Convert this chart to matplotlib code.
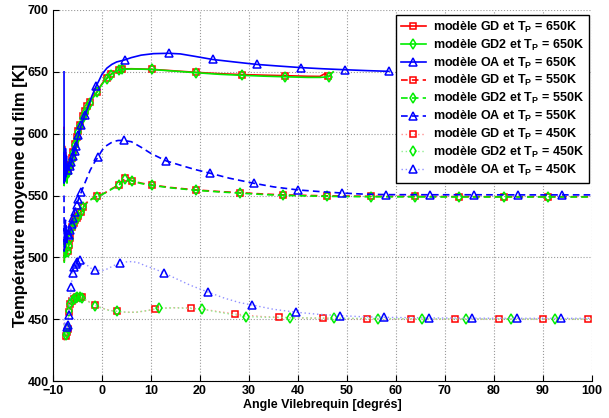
import matplotlib
matplotlib.use("Agg")
import matplotlib.pyplot as plt
import numpy as np

plt.rcParams['font.family'] = ['Liberation Sans', 'DejaVu Sans']
plt.rcParams['font.weight'] = 'bold'
plt.rcParams['axes.labelweight'] = 'bold'
plt.rcParams['mathtext.fontset'] = 'custom'
plt.rcParams['mathtext.rm'] = 'Liberation Sans:bold'
plt.rcParams['mathtext.bf'] = 'Liberation Sans:bold'
plt.rcParams['mathtext.it'] = 'Liberation Sans:bold'

# ---- data ----
# Tp = 650K
x_gd650 = [-7.75, -7.72, -7.65, -7.55, -7.45, -7.35, -7.25, -7.15, -7.0, -6.8, -6.5, -6.2, -5.9, -5.5,
           -5.2, -4.8, -4.4, -3.8, -3.4, -3.0, -2.5, -2.1, -1.5, -1.0, -0.4, 0.3, 1.0, 1.8, 2.5, 3.4,
           4.1, 6.0, 8.0, 10.2, 14.0, 19.2, 24.0, 28.5, 33.0, 37.4, 42.0, 44.5, 45.5, 46.2]
y_gd650 = [605, 560, 590, 565, 585, 563, 578, 562, 570, 566, 575, 580, 585, 592,
           597, 602, 607, 614, 618, 622, 626, 628.6, 631, 634, 638, 642, 645, 648, 650, 651.5,
           652.3, 652.5, 652.3, 652, 651, 649.6, 648.5, 647.8, 647.3, 646.9, 646.4, 646.3, 648.5, 646.5]
m_gd650 = [-7.0, -6.5, -6.2, -5.9, -5.5, -5.2, -4.8, -4.4, -3.8, -3.4, -3.0, -2.5, -1.0, 1.0, 1.8,
           3.4, 4.1, 10.2, 19.2, 28.5, 37.4, 46.2]

x_gd2650 = [-7.75, -7.72, -7.65, -7.55, -7.45, -7.35, -7.25, -7.15, -7.0, -6.8, -6.5, -6.2, -5.9, -5.5,
            -5.2, -4.8, -4.4, -3.8, -3.4, -3.0, -2.5, -2.1, -1.5, -1.0, -0.4, 0.3, 1.0, 1.8, 2.5, 3.4,
            4.1, 6.0, 8.0, 10.2, 14.0, 19.2, 24.0, 28.5, 33.0, 37.4, 42.0, 44.5, 46.3, 47.2]
y_gd2650 = [603, 558, 588, 563, 583, 561, 576, 560, 568, 565, 574, 579, 584, 591,
            596, 601, 606, 613, 617, 621, 625, 628, 630.5, 633.5, 637.5, 641.5, 644.5, 647.5, 649.7, 651.3,
            652, 652.3, 652.2, 651.9, 650.8, 649.3, 648, 647.2, 646.5, 646, 645.5, 645.5, 646, 650]
m_gd2650 = [-7.0, -6.5, -6.2, -5.9, -5.5, -5.2, -4.8, -4.4, -3.8, -3.4, -3.0, -2.5, -1.0, 1.0, 1.8,
            3.4, 4.1, 10.2, 19.2, 28.5, 37.4, 46.3]

x_oa650 = [-7.75, -7.72, -7.65, -7.55, -7.45, -7.35, -7.25, -7.15, -7.0, -6.9, -6.6, -6.3, -5.9, -5.6,
           -5.3, -4.8, -4.2, -3.5, -2.8, -2.1, -1.2, -0.6, 0.0, 1.0, 2.0, 3.0, 4.6, 6.0, 8.0, 10.5,
           13.6, 16.0, 19.0, 22.6, 27.0, 31.6, 36.0, 40.7, 45.0, 49.6, 54.0, 58.6]
y_oa650 = [650, 560, 585, 562, 588, 565, 582, 568, 575, 571, 574, 577, 582, 586,
           590, 599, 607, 615, 622, 630, 638.5, 643, 648, 653, 656, 658, 659.6, 661.5, 663.5, 664.7,
           665, 664.5, 662.5, 660, 658, 656, 654.7, 653.4, 652.5, 651.7, 651, 650.4]
m_oa650 = [-6.9, -6.6, -6.3, -5.9, -5.6, -5.3, -4.8, -4.2, -3.5, -1.2, 4.6, 13.6, 22.6, 31.6, 40.7,
           49.6, 58.6]

# Tp = 550K
x_gd550 = [-7.75, -7.7, -7.6, -7.5, -7.4, -7.3, -7.2, -7.0, -6.8, -6.5, -6.2, -5.8, -5.5, -5.1,
           -4.8, -4.3, -3.8, -3.2, -2.5, -1.8, -1.0, 0.0, 1.0, 2.0, 3.4, 4.75, 6.2, 8.0, 10.2, 14.0,
           19.2, 24.0, 28.2, 33.0, 37.0, 46.0, 55.0, 64.0, 73.0, 82.0, 91.0, 100.0]
y_gd550 = [515, 497, 510, 499, 508, 500, 506, 505, 510, 516, 524.8, 528, 530, 532,
           533.5, 537, 541, 544, 546.4, 548, 549.2, 551, 553, 555.5, 558.5, 564, 562, 560, 558.5, 556.5,
           554.5, 553.2, 552.3, 551.2, 550.5, 549.7, 549.3, 549.2, 549.1, 549.0, 549.0, 549.0]
m_gd550 = [-7.0, -6.8, -6.5, -6.2, -5.8, -5.5, -5.1, -4.8, -4.3, -3.8, -1.0, 3.4, 4.75, 6.2, 10.2,
           19.2, 28.2, 37.0, 46.0, 55.0, 64.0, 73.0, 82.0, 91.0]

x_gd2550 = x_gd550
y_gd2550 = [514, 496, 509, 498, 507, 499, 505, 504, 509, 515, 524, 527.5, 529.5, 531.5,
            533, 536.5, 540.5, 543.5, 546, 547.7, 549, 550.8, 552.8, 555.2, 558.2, 563.5, 561.7, 559.7, 558.2, 556.2,
            554.2, 552.9, 551.9, 550.8, 550.1, 549.3, 549.0, 548.9, 548.8, 548.8, 548.8, 548.8]
m_gd2550 = m_gd550

x_oa550 = [-7.75, -7.72, -7.65, -7.55, -7.45, -7.35, -7.25, -7.15, -7.0, -6.8, -6.5, -6.2, -5.9, -5.6,
           -5.2, -4.8, -4.2, -3.5, -2.4, -1.5, -0.75, 0.0, 0.8, 2.2, 3.3, 4.4, 6.0, 8.0, 10.0, 13.1,
           16.0, 19.0, 22.1, 26.0, 31.0, 35.0, 40.0, 45.0, 49.0, 53.0, 58.0, 67.0, 76.0, 85.0, 94.0, 100.0]
y_oa550 = [550, 505, 528, 508, 530, 510, 525, 512, 519, 518, 522, 527, 532, 537,
           542, 547, 553, 560, 570.5, 577, 581.4, 586.5, 590, 593.5, 594.5, 594.5, 593.5, 589, 584, 578,
           574.5, 571, 568, 564, 559.9, 557, 554.5, 553, 552, 551.2, 550.7, 550.6, 550.6, 550.5, 550.5, 550.5]
m_oa550 = [-7.0, -6.8, -6.5, -6.2, -5.9, -5.6, -5.2, -4.8, -4.2, -0.75, 4.4, 13.1, 22.1, 31.0, 40.0,
           49.0, 58.0, 67.0, 76.0, 85.0, 94.0]

# Tp = 450K
x_gd450 = [-7.75, -7.7, -7.6, -7.5, -7.4, -7.3, -7.2, -7.0, -6.8, -6.5, -6.2, -5.8, -5.4, -5.0,
           -4.5, -4.1, -3.0, -2.0, -1.4, 0.0, 1.5, 3.1, 5.0, 7.0, 9.0, 10.9, 13.0, 15.0, 18.2, 21.0,
           24.0, 27.1, 30.0, 33.0, 36.2, 40.0, 45.1, 54.2, 63.1, 72.1, 81.1, 90.1, 99.2, 100.0]
y_gd450 = [447, 433, 443, 435, 441, 436, 440, 442, 456, 462, 464.5, 466, 467, 467.8,
           468, 467.7, 465, 462.5, 461.4, 459, 457.2, 456.3, 455.6, 455.6, 456.8, 458, 459, 459.3, 459, 457.8,
           456, 454.2, 453, 452, 451.5, 451, 450.7, 450.3, 450.1, 450, 450, 450, 450, 450]
m_gd450 = [-7.3, -7.2, -7.0, -6.8, -6.5, -6.2, -5.8, -5.4, -5.0, -4.5, -4.1, -1.4, 3.1, 10.9, 18.2,
           27.1, 36.2, 45.1, 54.2, 63.1, 72.1, 81.1, 90.1, 99.2]

x_gd2450 = [-7.75, -7.7, -7.6, -7.5, -7.4, -7.3, -7.2, -7.0, -6.8, -6.5, -6.2, -5.8, -5.4, -5.0,
            -4.5, -4.1, -3.0, -2.0, -1.4, 0.0, 1.5, 3.1, 5.0, 7.0, 9.0, 11.6, 15.0, 20.4, 24.0, 29.4,
            33.0, 38.4, 42.0, 47.4, 56.4, 65.4, 74.3, 83.5, 92.5, 100.0]
y_gd2450 = [446, 434, 442, 436, 440, 437, 439, 443, 457, 462.5, 465, 466.5, 467.5, 468,
            468.2, 467.5, 464.8, 462.3, 461, 458.8, 457, 456.3, 455.6, 455.6, 456.8, 458.8, 459.2, 458.2, 455.5, 452,
            451.6, 451.3, 451, 450.8, 450.5, 450.3, 450.2, 450.1, 450.1, 450.1]
m_gd2450 = [-7.3, -7.2, -7.0, -6.8, -6.5, -6.2, -5.8, -5.4, -5.0, -4.5, -4.1, -1.4, 3.1, 11.6, 20.4,
            29.4, 38.4, 47.4, 56.4, 65.4, 74.3, 83.5, 92.5]

x_oa450 = [-7.75, -7.7, -7.6, -7.5, -7.4, -7.3, -7.2, -7.0, -6.8, -6.6, -6.3, -6.0, -5.7, -5.4,
           -5.0, -4.5, -4.0, -3.0, -2.0, -1.5, 0.0, 1.0, 2.5, 3.7, 5.0, 6.2, 7.5, 9.0, 10.8, 12.6,
           15.0, 18.0, 21.6, 25.0, 28.0, 30.6, 35.0, 39.7, 44.0, 48.6, 53.0, 57.6, 66.7, 75.6, 84.7, 93.7, 100.0]
y_oa450 = [450, 440, 447, 441, 446, 442, 444, 445, 453, 464, 476, 487, 492, 494.5,
           496.5, 497.8, 497, 493.5, 490.5, 489.8, 489.2, 490.5, 493.5, 495.2, 496.3, 496.6, 495.5, 493, 490.5, 487.6,
           483, 477.5, 472, 467, 463.5, 461.5, 458, 455.6, 454, 452.9, 452, 451.5, 451, 450.8, 450.7, 450.7, 450.7]
m_oa450 = [-7.2, -7.0, -6.8, -6.3, -6.0, -5.7, -5.4, -5.0, -4.5, -1.5, 3.7, 12.6, 21.6, 30.6, 39.7,
           48.6, 57.6, 66.7, 75.6, 84.7, 93.7]

models = ['GD', 'GD2', 'OA']
temps = ['650', '550', '450']
series = {
    ('GD', '650'): (x_gd650, y_gd650, m_gd650),
    ('GD2', '650'): (x_gd2650, y_gd2650, m_gd2650),
    ('OA', '650'): (x_oa650, y_oa650, m_oa650),
    ('GD', '550'): (x_gd550, y_gd550, m_gd550),
    ('GD2', '550'): (x_gd2550, y_gd2550, m_gd2550),
    ('OA', '550'): (x_oa550, y_oa550, m_oa550),
    ('GD', '450'): (x_gd450, y_gd450, m_gd450),
    ('GD2', '450'): (x_gd2450, y_gd2450, m_gd2450),
    ('OA', '450'): (x_oa450, y_oa450, m_oa450),
}

colors = {'GD': '#ff0000', 'GD2': '#00ee00', 'OA': '#0000ff'}
pale = {'GD': '#ff9090', 'GD2': '#90ee90', 'OA': '#9090ff'}
markers = {'GD': 's', 'GD2': 'd', 'OA': '^'}
msizes = {'GD': 4.3, 'GD2': 5.0, 'OA': 5.5}
styles = {'650': '-', '550': (0, (4, 2.5)), '450': (0, (1, 2))}
widths = {'650': 1.2, '550': 1.2, '450': 1.0}

fig = plt.figure(figsize=(6.09, 4.18), dpi=100)
ax = fig.add_axes([53 / 609, 1 - 381 / 418, 538.7 / 609, 371 / 418])

for t in temps:
    for m in models:
        x, y, mk = series[(m, t)]
        x = np.array(x)
        idx = np.flatnonzero(np.isin(x, mk))
        lc = pale[m] if t == '450' else colors[m]
        ax.plot(x, y, linestyle=styles[t], color=lc, lw=widths[t],
                marker=markers[m], markevery=list(idx), ms=msizes[m], mfc='none',
                mec=colors[m], mew=1.1,
                label='modèle %s et T$_{\\mathrm{P}}$ = %sK' % (m, t))

ax.set_xlim(-10, 100)
ax.set_ylim(400, 700)
ax.set_xticks(np.arange(-10, 101, 10))
ax.set_yticks(np.arange(400, 701, 50))
ax.tick_params(direction='in', length=4, labelsize=9, pad=3)
ax.grid(True, linestyle=':', color='#999999', lw=0.8)
ax.spines['top'].set_visible(False)
ax.spines['right'].set_visible(False)
ax.set_xlabel('Angle Vilebrequin [degrés]', fontsize=9, labelpad=1)
ax.set_ylabel('Température moyenne du film [K]', fontsize=12, labelpad=0)

leg = ax.legend(loc='upper right', bbox_to_anchor=(0.995, 0.987), borderaxespad=0,
                fontsize=9, labelspacing=0.22, handlelength=2.0, handletextpad=0.6,
                fancybox=False, framealpha=1, edgecolor='black', borderpad=0.4)
leg.get_frame().set_linewidth(1.0)

fig.savefig('out.png', dpi=100)
